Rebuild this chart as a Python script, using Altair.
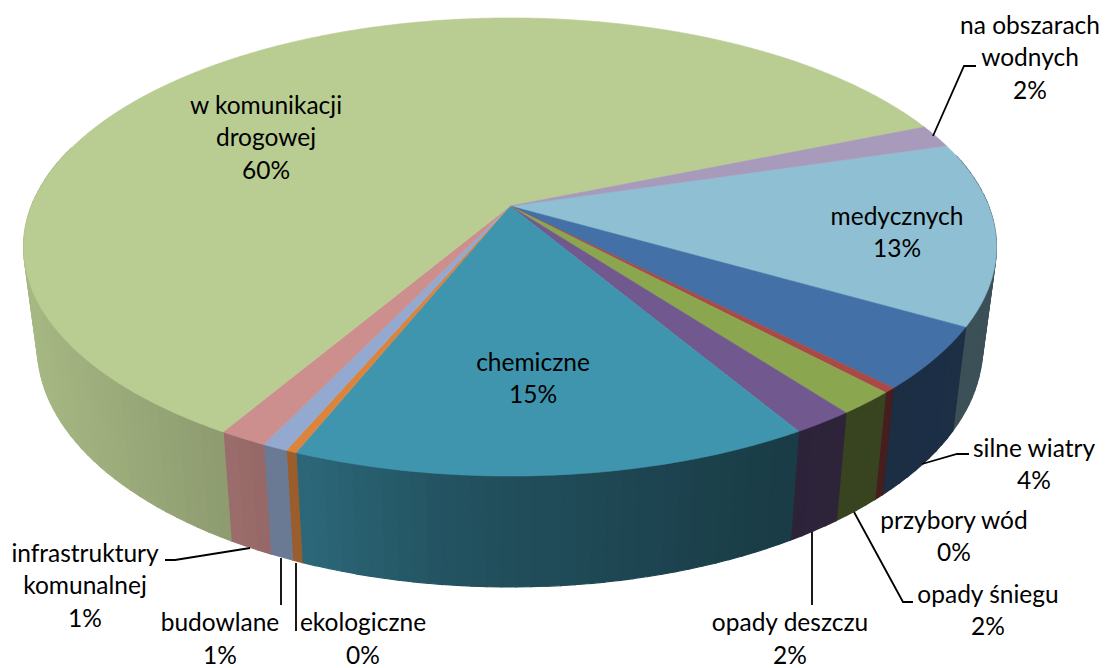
import math
import altair as alt

# Data values (share of total, %), clockwise from the first slice
NAMES = ["medycznych", "silne wiatry", "przybory wód", "opady śniegu", "opady deszczu",
         "chemiczne", "ekologiczne", "budowlane", "infrastruktury komunalnej",
         "w komunikacji drogowej", "na obszarach wodnych"]
VALUES = [12.9, 4.4, 0.36, 1.67, 1.75, 14.6, 0.3, 0.72, 1.36, 60.3, 1.6]
COLORS = ["#8FBFD3", "#4370A6", "#A94A47", "#8AA64F", "#71588F", "#3F95AE",
          "#DB843D", "#93A9CF", "#CC8F8D", "#B9CC92", "#A79ABB"]

# Label layout: lines of each label, centre x, first line centre y
LABEL_LINES = {
    "medycznych": (["medycznych"], 897, 217.5),
    "silne wiatry": (["silne wiatry"], 1034, 449.5),
    "przybory wód": (["przybory wód"], 954, 521.5),
    "opady śniegu": (["opady śniegu"], 988, 595.5),
    "opady deszczu": (["opady deszczu"], 790, 624),
    "chemiczne": (["chemiczne"], 533, 363.5),
    "ekologiczne": (["ekologiczne"], 363, 624),
    "budowlane": (["budowlane"], 220, 624),
    "infrastruktury komunalnej": (["infrastruktury", "komunalnej"], 85, 554.5),
    "w komunikacji drogowej": (["w komunikacji", "drogowej"], 266, 106.5),
    "na obszarach wodnych": (["na obszarach", "wodnych"], 1030, 26.5),
}
LINE_STEP = 32.5
LEADERS = [
    [(933, 136), (964, 66), (976, 66)],
    [(922, 464), (957, 454), (969, 454)],
    [(854, 512), (903, 602), (913, 602)],
    [(812, 532), (812, 605)],
    [(296, 563), (296, 631)],
    [(281, 558), (281, 605)],
    [(250, 548), (175, 560), (165, 560)],
]

# Perspective geometry of the disc
START_DEG = 73.4
P = 0.179
TOP = dict(cx=510, cy=206, a=478.6, b=221.7)
BOT = dict(cx=510, cy=304, a=465.0, b=232.3)
# Wall shading (x position -> multiplier)
SHADE_X = [25, 225, 264, 296, 450, 790, 995]
SHADE_K = [0.90, 0.76, 0.73, 0.70, 0.55, 0.40, 0.42]


def rim(deg, g):
    t = math.radians(deg)
    u, v = math.sin(t), math.cos(t)
    d = 1 + P * v
    return [g["cx"] + g["a"] * u / d, g["cy"] - g["b"] * v / d]


def shade(x):
    if x <= SHADE_X[0]:
        return SHADE_K[0]
    for i in range(1, len(SHADE_X)):
        if x <= SHADE_X[i]:
            f = (x - SHADE_X[i - 1]) / (SHADE_X[i] - SHADE_X[i - 1])
            return SHADE_K[i - 1] + f * (SHADE_K[i] - SHADE_K[i - 1])
    return SHADE_K[-1]


def tint(col, k):
    r, g, b = [int(col[i:i + 2], 16) for i in (1, 3, 5)]
    return "#%02x%02x%02x" % (round(r * k), round(g * k), round(b * k))


def feature(kind, coords, fill=None):
    return {"type": "Feature", "geometry": {"type": kind, "coordinates": coords},
            "properties": {"fill": fill}}


walls, tops = [], []
total = sum(VALUES)
angle = START_DEG
for name, val, col in zip(NAMES, VALUES, COLORS):
    span = val / total * 360
    n = max(2, int(span / 0.5))
    angs = [angle + span * i / n for i in range(n + 1)]
    tops.append(feature("Polygon", [[[TOP["cx"], TOP["cy"]]] + [rim(a, TOP) for a in angs]
                                    + [[TOP["cx"], TOP["cy"]]]], col))
    wn = max(1, int(span / 1.5))
    wangs = [angle + span * i / wn for i in range(wn + 1)]
    for a0, a1 in zip(wangs[:-1], wangs[1:]):
        if 75 < (a0 % 360) < 285:
            p0, p1, q1, q0 = rim(a0, TOP), rim(a1, TOP), rim(a1, BOT), rim(a0, BOT)
            walls.append(feature("Polygon", [[p0, p1, q1, q0, p0]],
                                 tint(col, shade((p0[0] + p1[0]) / 2))))
    angle += span

lines = [feature("LineString", [list(p) for p in pts]) for pts in LEADERS]

rows = []
for name, val in zip(NAMES, VALUES):
    txt, x, y = LABEL_LINES[name]
    for i, t in enumerate(txt + [f"{round(val)}%"]):
        rows.append({"t": t, "x": x - 8, "y": y + i * LINE_STEP - 8})

PROJ = dict(type="identity", scale=1, translate=[-8, -8])


def geo(features, sw):
    return alt.Chart(alt.InlineData(values=features)).mark_geoshape(strokeWidth=sw).encode(
        color=alt.Color("properties.fill:N", scale=None),
        stroke=alt.Stroke("properties.fill:N", scale=None),
    ).project(**PROJ)


leader = alt.Chart(alt.InlineData(values=lines)).mark_geoshape(
    filled=False, stroke="#000000", strokeWidth=1.8).project(**PROJ)

text = alt.Chart(alt.InlineData(values=rows)).mark_text(
    font="Lato", fontSize=24.5, color="#000000", align="center", baseline="middle"
).encode(x=alt.X("x:Q", scale=None), y=alt.Y("y:Q", scale=None), text="t:N")

chart = alt.layer(geo(walls, 1.2), geo(tops, 0.6), leader, text).properties(
    width=1094, height=660, padding=0, background="#FFFFFF",
    autosize=alt.AutoSizeParams(type="none")
).configure_view(strokeWidth=0, stroke=None)

chart.save("out.html", embed_options={"renderer": "svg", "actions": False})
